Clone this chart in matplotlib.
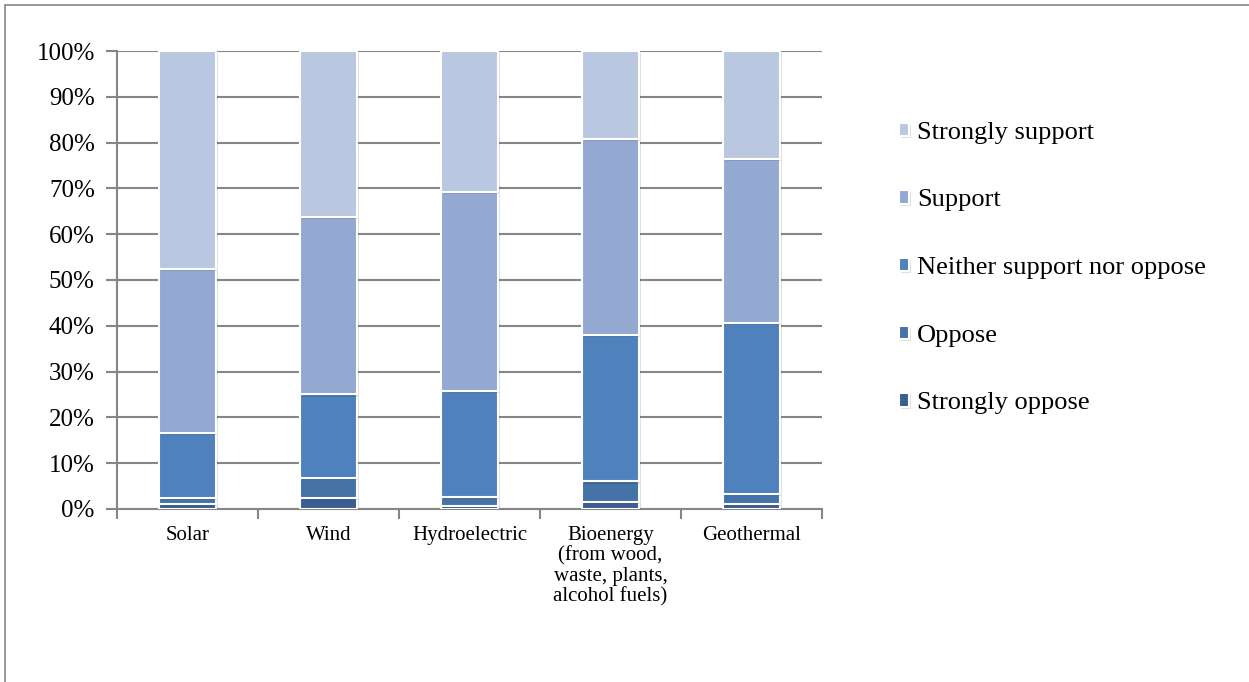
import numpy as np
import matplotlib.pyplot as plt
import matplotlib.patheffects as pe
from matplotlib.patches import Rectangle

plt.rcParams['font.family'] = ['Liberation Serif', 'DejaVu Serif']

categories = ['Solar', 'Wind', 'Hydroelectric',
              'Bioenergy\n(from wood,\nwaste, plants,\nalcohol fuels)', 'Geothermal']
series = ['Strongly oppose', 'Oppose', 'Neither support nor oppose', 'Support', 'Strongly support']
strongly_oppose = [1.0, 2.4, 0.6, 1.6, 1.1]
oppose = [1.5, 4.4, 2.0, 4.4, 2.2]
neither = [14.1, 18.2, 23.2, 32.0, 37.3]
support = [35.9, 38.7, 43.4, 42.8, 35.8]
strongly_support = [47.5, 36.3, 30.8, 19.2, 23.6]
colors = ['#3B5E91', '#4572A7', '#4F81BD', '#93A9D1', '#B9C7E0']

values = [strongly_oppose, oppose, neither, support, strongly_support]

fig = plt.figure(figsize=(12.49, 6.82), dpi=100)
# chart border
fig.patches.append(Rectangle((0.004, -0.01), 1.2, 1.003, transform=fig.transFigure,
                             fill=False, edgecolor='#868686', linewidth=1.2))
ax = fig.add_axes([0.0937, 0.2537, 0.5645, 0.6715])

x = np.arange(len(categories))
bottom = np.zeros(len(categories))
handles = []
shadow = [pe.SimplePatchShadow(offset=(1.5, -1.5), shadow_rgbFace='#000000', alpha=0.12), pe.Normal()]
for vals, name, c in zip(values, series, colors):
    b = ax.bar(x, vals, 0.4, bottom=bottom, color=c, edgecolor='white',
               linewidth=1.5, label=name, zorder=3)
    for r in b:
        r.set_path_effects(shadow)
    handles.append(b)
    bottom += np.array(vals)

ax.set_xlim(-0.5, len(categories) - 0.5)
ax.set_ylim(0, 100)
ax.set_yticks(np.arange(0, 101, 10))
ax.set_yticklabels([f'{v}%' for v in range(0, 101, 10)], fontsize=18)
ax.yaxis.grid(True, color='#868686', linewidth=1.5, zorder=0)
ax.set_xticks(x)
ax.set_xticklabels(categories, fontsize=15, linespacing=1.1)
ax.set_xticks(np.arange(-0.5, len(categories)), minor=True)
ax.tick_params(axis='x', which='major', length=0, pad=12)
ax.tick_params(axis='x', which='minor', length=7, width=1.5, color='#868686')
ax.tick_params(axis='y', length=8, width=1.5, color='#868686', pad=8)
for s in ['top', 'right']:
    ax.spines[s].set_visible(False)
ax.spines['left'].set_color('#868686')
ax.spines['left'].set_linewidth(1.5)
ax.spines['bottom'].set_color('#868686')
ax.spines['bottom'].set_linewidth(1.5)

ax.legend(handles[::-1], series[::-1], loc='center left', bbox_to_anchor=(1.075, 0.526),
          frameon=False, fontsize=19, handlelength=0.4, handleheight=0.4,
          handletextpad=0.3, labelspacing=1.73)

fig.savefig('out.png', dpi=100)
